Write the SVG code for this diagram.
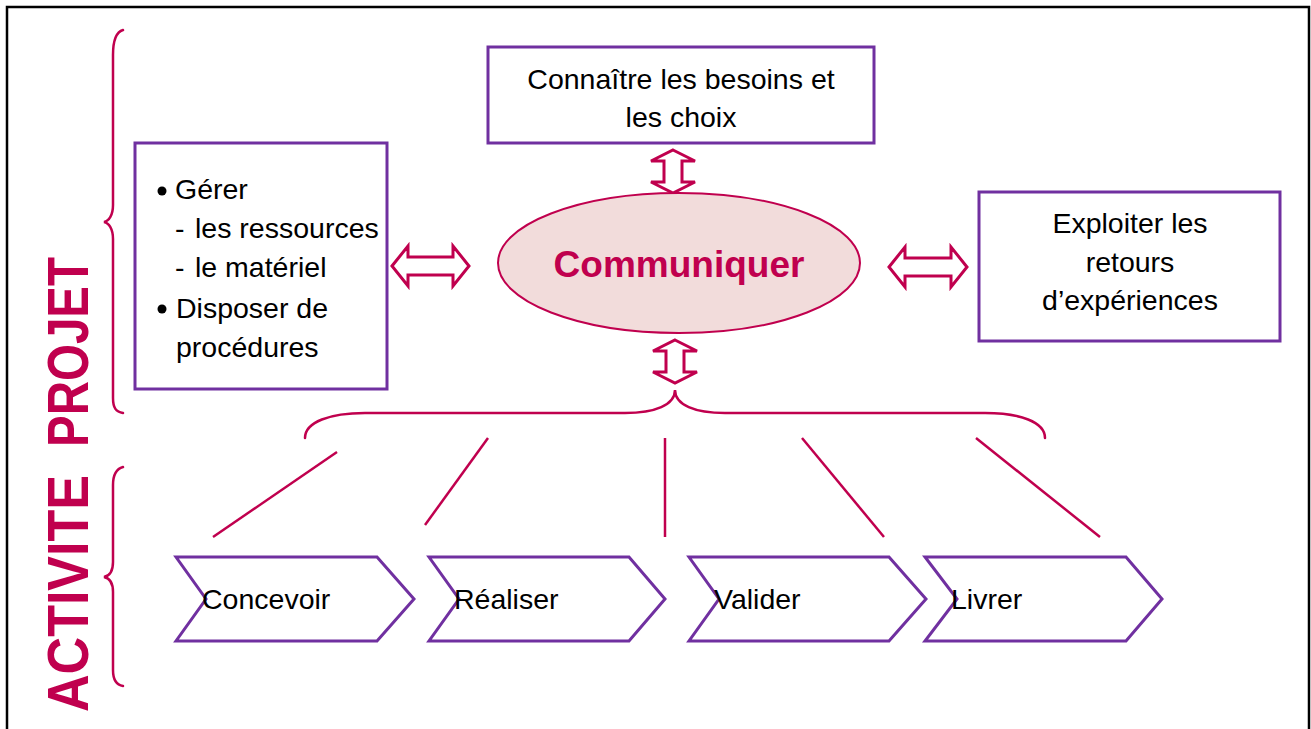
<svg xmlns="http://www.w3.org/2000/svg" width="1311" height="729" viewBox="0 0 1311 729">
  <style>
    .frame { fill: none; stroke: #000; stroke-width: 2.5; }
    .box { fill: #fff; stroke: #7030A0; stroke-width: 3; }
    .brace { fill: none; stroke: #C0004E; stroke-width: 2.5; stroke-linecap: round; }
    .link { fill: none; stroke: #C0004E; stroke-width: 2.5; }
    .dbl { fill: #fff; stroke: #C0004E; stroke-width: 3; stroke-linejoin: miter; }
    .txt { font-family: "Liberation Sans", Arial, sans-serif; font-size: 28.5px; fill: #000; }
    .mid { text-anchor: middle; }
    .title { font-family: "Liberation Sans", Arial, sans-serif; font-weight: bold; font-size: 57px; fill: #C0004E; }
    .hub { font-family: "Liberation Sans", Arial, sans-serif; font-weight: bold; font-size: 37px; fill: #C0004E; text-anchor: middle; }
  </style>

  <rect width="1311" height="729" fill="#fff"/>
  <!-- page frame (open at the bottom) -->
  <path class="frame" d="M7,740 L7,7 L1309,7 L1309,740"/>

  <!-- vertical title -->
  <g id="title">
    <text class="title" transform="translate(88,712) rotate(-90)" textLength="237" lengthAdjust="spacingAndGlyphs">ACTIVITE</text>
    <text class="title" transform="translate(88,447) rotate(-90)" textLength="190" lengthAdjust="spacingAndGlyphs">PROJET</text>
  </g>

  <!-- braces and connectors -->
  <g id="connectors">
    <path class="brace" d="M123,30 C116,32 113,40 113,55 L113,205 C113,215 109,221 104,222 C109,223 113,229 113,239 L113,398 C113,408 116,412 123,413"/>
    <path class="brace" d="M123,467 C116,469 113,475 113,485 L113,562 C113,572 109,576 104,577 C109,578 113,582 113,592 L113,670 C113,680 116,685 123,686"/>
    <path class="brace" d="M305,438 C305,422 330,413 365,413 L625,413 C655,413 675,405 675,390 C675,405 695,413 725,413 L985,413 C1020,413 1045,422 1045,438"/>

    <line class="link" x1="337" y1="452" x2="213" y2="537"/>
    <line class="link" x1="488" y1="438" x2="425" y2="525"/>
    <line class="link" x1="665" y1="438" x2="665" y2="537"/>
    <line class="link" x1="802" y1="438" x2="884" y2="537"/>
    <line class="link" x1="976" y1="438" x2="1100" y2="537"/>

    <!-- double-headed block arrows -->
    <polygon class="dbl" points="392,266 408,246 408,257 453,257 453,246 469,266 453,286 453,275 408,275 408,286"/>
    <polygon class="dbl" points="889,267 905,247 905,258 951,258 951,247 967,267 951,287 951,276 905,276 905,287"/>
    <polygon class="dbl" points="673,150 695,161 682,161 682,182 695,182 673,193 651,182 664,182 664,161 651,161"/>
    <polygon class="dbl" points="675,340 697,351 684,351 684,372 697,372 675,383 653,372 666,372 666,351 653,351"/>
  </g>

  <g id="node-besoins">
    <rect class="box" x="488" y="47" width="386" height="96"/>
    <text class="txt mid" x="681" y="89">Connaître les besoins et</text>
    <text class="txt mid" x="681" y="127">les choix</text>
  </g>

  <g id="node-gerer">
    <rect class="box" x="135" y="143" width="252" height="246"/>
    <circle cx="162" cy="191" r="4.5" fill="#000"/>
    <circle cx="162" cy="309" r="4.5" fill="#000"/>
    <text class="txt" x="175" y="199">Gérer</text>
    <text class="txt" x="175" y="238">-</text>
    <text class="txt" x="195" y="238">les ressources</text>
    <text class="txt" x="175" y="277">-</text>
    <text class="txt" x="195" y="277">le matériel</text>
    <text class="txt" x="176" y="318">Disposer de</text>
    <text class="txt" x="176" y="357">procédures</text>
  </g>

  <g id="node-communiquer">
    <ellipse cx="679" cy="263" rx="181" ry="70" fill="#F2DCDB" stroke="#C0004E" stroke-width="2"/>
    <text class="hub" x="679" y="277">Communiquer</text>
  </g>

  <g id="node-retours">
    <rect class="box" x="979" y="192" width="301" height="149"/>
    <text class="txt mid" x="1130" y="233">Exploiter les</text>
    <text class="txt mid" x="1130" y="272">retours</text>
    <text class="txt mid" x="1130" y="310">d’expériences</text>
  </g>

  <g id="step-concevoir">
    <polygon class="box" points="176,557 377,557 414,599 377,641 176,641 206,599"/>
    <text class="txt" x="202" y="609">Concevoir</text>
  </g>
  <g id="step-realiser">
    <polygon class="box" points="429,557 629,557 665,599 629,641 429,641 459,599"/>
    <text class="txt" x="454" y="609">Réaliser</text>
  </g>
  <g id="step-valider">
    <polygon class="box" points="689,557 889,557 926,599 889,641 689,641 719,599"/>
    <text class="txt" x="714" y="609">Valider</text>
  </g>
  <g id="step-livrer">
    <polygon class="box" points="925,557 1126,557 1162,599 1126,641 925,641 957,599"/>
    <text class="txt" x="951" y="609">Livrer</text>
  </g>
</svg>
